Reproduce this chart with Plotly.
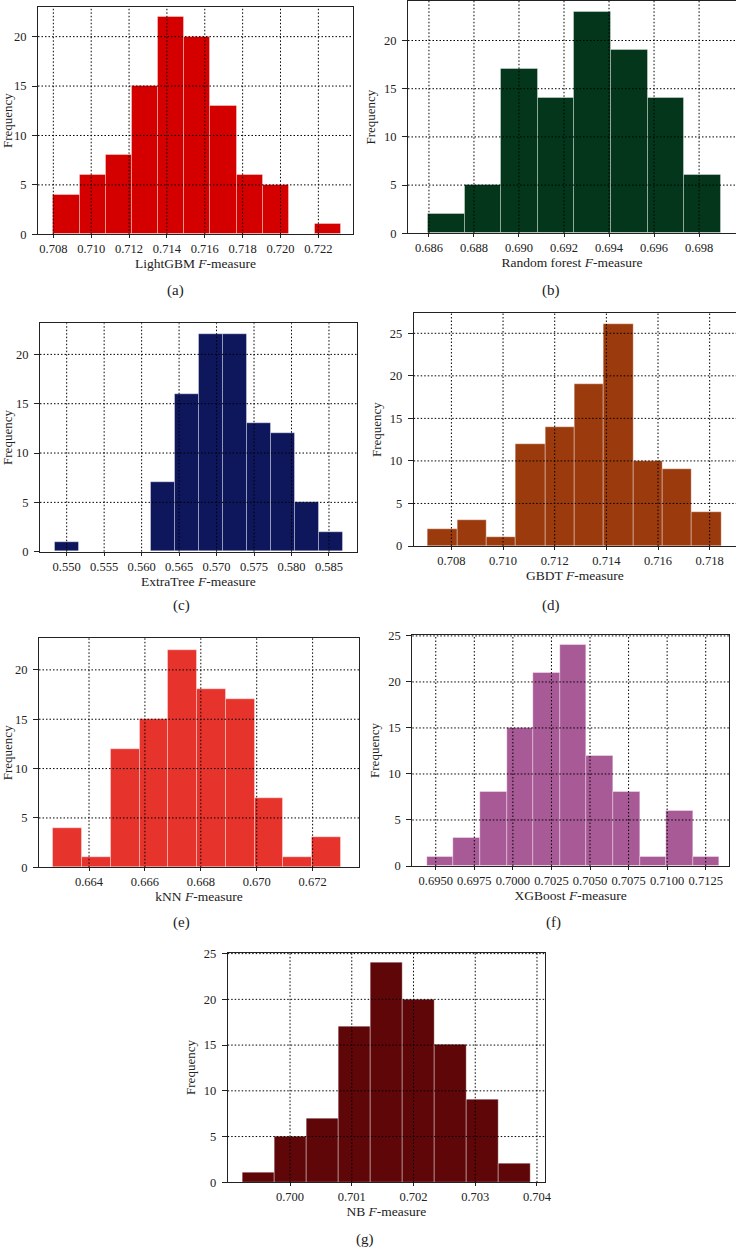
import plotly.graph_objects as go

# ---- values ------------------------------------------------------------------
lgbm_counts = [4, 6, 8, 15, 22, 20, 13, 6, 5, 0, 1]
lgbm_bin_start, lgbm_bin_width = 0.70800, 0.001383
lgbm_ticks = [0.708, 0.710, 0.712, 0.714, 0.716, 0.718, 0.720, 0.722]

rf_counts = [2, 5, 17, 14, 23, 19, 14, 6]
rf_bin_start, rf_bin_width = 0.68596, 0.001626
rf_ticks = [0.686, 0.688, 0.690, 0.692, 0.694, 0.696, 0.698]

et_counts = [1, 0, 0, 0, 7, 16, 22, 22, 13, 12, 5, 2]
et_bin_start, et_bin_width = 0.54844, 0.003202
et_ticks = [0.550, 0.555, 0.560, 0.565, 0.570, 0.575, 0.580, 0.585]

gbdt_counts = [2, 3, 1, 12, 14, 19, 26, 10, 9, 4]
gbdt_bin_start, gbdt_bin_width = 0.70710, 0.001135
gbdt_ticks = [0.708, 0.710, 0.712, 0.714, 0.716, 0.718]

knn_counts = [4, 1, 12, 15, 22, 18, 17, 7, 1, 3]
knn_bin_start, knn_bin_width = 0.66272, 0.001029
knn_ticks = [0.664, 0.666, 0.668, 0.670, 0.672]

xgb_counts = [1, 3, 8, 15, 21, 24, 12, 8, 1, 6, 1]
xgb_bin_start, xgb_bin_width = 0.69444, 0.001724
xgb_ticks = [0.6950, 0.6975, 0.7000, 0.7025, 0.7050, 0.7075, 0.7100, 0.7125]

nb_counts = [1, 5, 7, 17, 24, 20, 15, 9, 2]
nb_bin_start, nb_bin_width = 0.69923, 0.000519
nb_ticks = [0.700, 0.701, 0.702, 0.703, 0.704]

freq_ticks_20 = [0, 5, 10, 15, 20]
freq_ticks_25 = [0, 5, 10, 15, 20, 25]

# ---- panel layout (pixel boxes in the 736x1249 page) --------------------------
W, H = 736, 1249
panels = [
    # counts, start, width, xticks, yticks, fmt, title, colour, label, box(l,t,r,b), xrange, ymax, label pos
    (lgbm_counts, lgbm_bin_start, lgbm_bin_width, lgbm_ticks, freq_ticks_20, '.3f',
     'LightGBM <i>F</i>-measure', '#d40000', '(a)', (38, 7, 353, 234.3),
     [0.70719, 0.72383], 23.0, (175, 291)),
    (rf_counts, rf_bin_start, rf_bin_width, rf_ticks, freq_ticks_20, '.3f',
     'Random forest <i>F</i>-measure', '#03361a', '(b)', (408, 1, 736, 233.3),
     [0.68507, 0.69964], 24.1, (551, 291)),
    (et_counts, et_bin_start, et_bin_width, et_ticks, freq_ticks_20, '.3f',
     'ExtraTree <i>F</i>-measure', '#0e165c', '(c)', (40, 323.3, 356.7, 551.7),
     [0.54644, 0.58870], 23.15, (181, 605)),
    (gbdt_counts, gbdt_bin_start, gbdt_bin_width, gbdt_ticks, freq_ticks_25, '.3f',
     'GBDT <i>F</i>-measure', '#9b3a0c', '(d)', (413.7, 313.3, 736, 546),
     [0.70654, 0.71902], 27.35, (551, 605)),
    (knn_counts, knn_bin_start, knn_bin_width, knn_ticks, freq_ticks_20, '.3f',
     'kNN <i>F</i>-measure', '#e6342d', '(e)', (39, 638.3, 359, 867.3),
     [0.66221, 0.67366], 23.2, (181, 922)),
    (xgb_counts, xgb_bin_start, xgb_bin_width, xgb_ticks, freq_ticks_25, '.4f',
     'XGBoost <i>F</i>-measure', '#a85a96', '(f)', (412.3, 635, 729, 866),
     [0.69348, 0.71401], 25.1, (553, 922)),
    (nb_counts, nb_bin_start, nb_bin_width, nb_ticks, freq_ticks_25, '.3f',
     'NB <i>F</i>-measure', '#5f0608', '(g)', (227.7, 952.7, 545, 1182.3),
     [0.69899, 0.70413], 25.1, (365, 1239)),
]

FONT = 'Liberation Serif'
fig = go.Figure()
layout = {}
shapes = []
annotations = []

for n, (counts, start, width, xt, yt, fmt, title, colour, label, box,
        xr, ymax, lab) in enumerate(panels, start=1):
    xa, ya = f'x{n}' if n > 1 else 'x', f'y{n}' if n > 1 else 'y'
    lefts = [start + i * width for i in range(len(counts))]
    fig.add_trace(go.Bar(
        x=lefts, y=counts, width=width, offset=0, xaxis=xa, yaxis=ya,
        marker=dict(color=colour, line=dict(color='rgba(255,255,255,0.35)', width=1)),
        showlegend=False, hoverinfo='x+y'))

    l, t, r, b = box
    common = dict(showline=True, mirror=True, linecolor='#222', linewidth=1,
                  ticks='outside', ticklen=5, tickcolor='#222', showgrid=False,
                  zeroline=False, automargin=False,
                  tickfont=dict(family=FONT, size=12.5, color='#222'))
    layout[f'xaxis{n if n > 1 else ""}'] = dict(
        common, domain=[l / W, r / W], anchor=ya, range=xr, tickvals=xt,
        tickformat=fmt, ticklen=3,
        title=dict(text=title, standoff=1, font=dict(family=FONT, size=13.5, color='#222')))
    layout[f'yaxis{n if n > 1 else ""}'] = dict(
        common, domain=[1 - b / H, 1 - t / H], anchor=xa, range=[0, ymax],
        tickvals=yt, ticklabelstandoff=3,
        title=dict(text='Frequency', standoff=5, font=dict(family=FONT, size=13, color='#222')))

    # dotted grid drawn above the bars, as in the original
    for v in xt:
        shapes.append(dict(type='line', xref=xa, yref=f'{ya} domain', x0=v, x1=v,
                           y0=0, y1=1, layer='above',
                           line=dict(color='black', width=1, dash='1.5px,2px')))
    for v in yt[1:]:
        shapes.append(dict(type='line', xref=f'{xa} domain', yref=ya, x0=0, x1=1,
                           y0=v, y1=v, layer='above',
                           line=dict(color='black', width=1, dash='1.5px,2px')))

    annotations.append(dict(text=label, x=lab[0] / W, y=1 - lab[1] / H, xref='paper',
                            yref='paper', showarrow=False, xanchor='center',
                            yanchor='middle', font=dict(family=FONT, size=15, color='#222')))

fig.update_layout(
    width=W, height=H, margin=dict(l=0, r=0, t=0, b=0, autoexpand=False),
    paper_bgcolor='white', plot_bgcolor='white', bargap=0,
    shapes=shapes, annotations=annotations, **layout)

# drop the browser's default 8px body margin so the figure sits at the page corner
fig.write_html("out.html", config={'displayModeBar': False},
               post_script="document.body.style.margin='0';")
